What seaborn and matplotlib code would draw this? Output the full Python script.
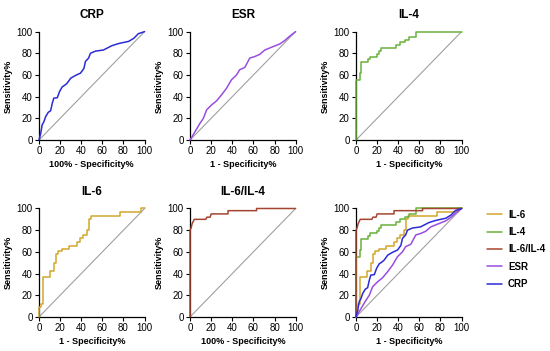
import matplotlib
matplotlib.use("Agg")
import matplotlib.pyplot as plt
import seaborn as sns
import pandas as pd

# ROC curves (x = 1 - specificity %, y = sensitivity %)
crp_x = [0, 1.6, 3, 4.7, 6.3, 8.8, 11, 12.6, 14, 17.3, 19.5, 22, 25, 26.7, 30, 34.6, 39.3,
         42.5, 44, 47, 48.7, 53.5, 61, 69, 75.5, 85, 90, 94, 100]
crp_y = [0, 6, 14, 17, 21.6, 25.6, 27, 34, 38.6, 39, 44.8, 49, 51, 52.5, 57, 59.6, 61.7,
         66, 72.5, 75.6, 80, 82, 83, 87, 89, 91, 94, 98, 100]

esr_x = [0, 4.7, 9.4, 12.6, 15.7, 20.4, 25, 29.9, 34.6, 39.3, 44, 47, 51.9, 56.6, 61.3,
         66, 70.8, 77, 85, 89.6, 94.3, 100]
esr_y = [0, 7.7, 15.4, 20, 27.8, 32.4, 36, 41.7, 47.8, 55.6, 60, 64.8, 67, 75.6, 77,
         79, 83, 85.5, 88.6, 91.7, 95.7, 100]

il4_x = [0, 0, 4, 4, 5, 5, 11, 11, 13, 13, 20, 20, 22, 22, 24, 24, 38, 38, 42, 42, 46, 46,
         50, 50, 57, 57, 100]
il4_y = [0, 55, 55, 62, 62, 72, 72, 75, 75, 77, 77, 79, 79, 82, 82, 85, 85, 88, 88, 90, 90, 92,
         92, 95, 95, 100, 100]

il6_x = [0, 0, 2, 2, 4, 4, 10, 10, 14, 14, 16, 16, 18, 18, 22, 22, 28, 28, 36, 36, 39, 39,
         42, 42, 45, 45, 47, 47, 49, 49, 77, 77, 97, 97, 100]
il6_y = [0, 9, 9, 12, 12, 37, 37, 42, 42, 50, 50, 58, 58, 61, 61, 63, 63, 65, 65, 69, 69, 73,
         73, 76, 76, 80, 80, 90, 90, 93, 93, 97, 97, 100, 100]

ratio_x = [0, 0, 1, 2, 3, 4, 15, 16, 19, 20, 36, 36, 63, 63, 100]
ratio_y = [0, 80, 82, 86, 88, 90, 90, 92, 92, 95, 95, 98, 98, 100, 100]

names = ["IL-6", "IL-4", "IL-6/IL-4", "ESR", "CRP"]
colors = {"IL-6": "#D2A62E", "IL-4": "#6AB23A", "IL-6/IL-4": "#A4452F",
          "ESR": "#9A4DE0", "CRP": "#2B2BD6"}
curves = {"IL-6": (il6_x, il6_y), "IL-4": (il4_x, il4_y), "IL-6/IL-4": (ratio_x, ratio_y),
          "ESR": (esr_x, esr_y), "CRP": (crp_x, crp_y)}

sns.set_style("ticks")
plt.rcParams["font.family"] = ["Liberation Sans", "DejaVu Sans"]
plt.rcParams["text.color"] = "black"
plt.rcParams["axes.labelcolor"] = "black"

fig = plt.figure(figsize=(5.5, 3.51), dpi=100)

lefts = [0.0709, 0.3455, 0.6473]
bottoms = [0.601, 0.097]
w, h = 0.192, 0.309

panels = [("CRP", ["CRP"], "100% - Specificity%"),
          ("ESR", ["ESR"], "1 - Specificity%"),
          ("IL-4", ["IL-4"], "1 - Specificity%"),
          ("IL-6", ["IL-6"], "1 - Specificity%"),
          ("IL-6/IL-4", ["IL-6/IL-4"], "100% - Specificity%"),
          ("", names, "1 - Specificity%")]

for i, (title, series, xlabel) in enumerate(panels):
    ax = fig.add_axes([lefts[i % 3], bottoms[i // 3], w, h])
    ax.plot([0, 100], [0, 100], color="#A0A0A0", lw=0.8, zorder=1)
    for name in series:
        x, y = curves[name]
        df = pd.DataFrame({"x": x, "y": y})
        sns.lineplot(data=df, x="x", y="y", ax=ax, estimator=None, sort=False,
                     color=colors[name], lw=1.1, label=name if title == "" else None,
                     clip_on=False, zorder=3)
    ax.set_xlim(0, 100)
    ax.set_ylim(0, 100)
    ax.set_xticks(range(0, 101, 20))
    ax.set_yticks(range(0, 101, 20))
    ax.tick_params(labelsize=7, length=3, width=0.8, pad=1.5, colors="black")
    for s in ["left", "bottom"]:
        ax.spines[s].set_linewidth(0.9)
        ax.spines[s].set_color("black")
    sns.despine(ax=ax)
    ax.set_xlabel(xlabel, fontsize=6.5, fontweight="bold", labelpad=3)
    ax.set_ylabel("Sensitivity%", fontsize=6.5, fontweight="bold", labelpad=3)
    if title:
        ax.set_title(title, fontsize=8.5, fontweight="bold", pad=10)
    else:
        handles, labels = ax.get_legend_handles_labels()
        ax.get_legend().remove()
        fig.legend(handles, labels, loc="upper left", bbox_to_anchor=(0.869, 0.427),
                   frameon=False, prop={"size": 7, "weight": "bold"},
                   handlelength=1.6, handletextpad=0.6, labelspacing=0.75)

fig.savefig("out.png", dpi=100)
